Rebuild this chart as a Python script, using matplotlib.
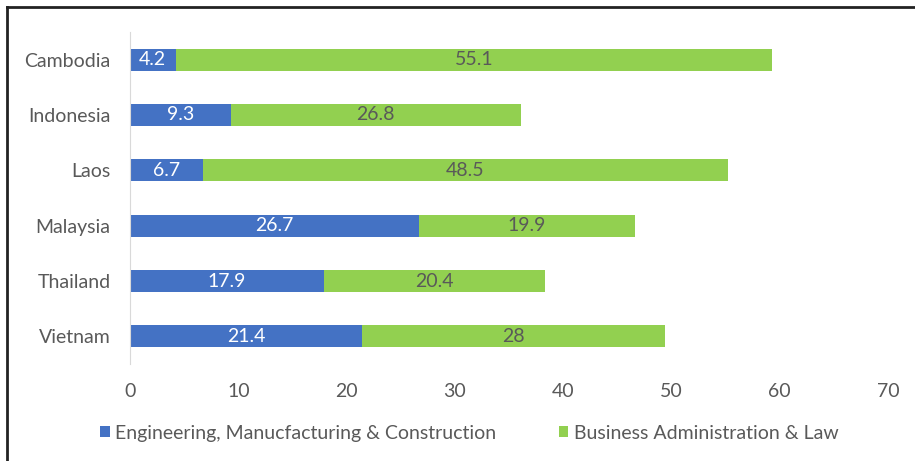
import matplotlib.pyplot as plt
import numpy as np

# data
countries = ['Cambodia', 'Indonesia', 'Laos', 'Malaysia', 'Thailand', 'Vietnam']
engineering = [4.2, 9.3, 6.7, 26.7, 17.9, 21.4]
business = [55.1, 26.8, 48.5, 19.9, 20.4, 28]
series_names = ['Engineering, Manucfacturing & Construction', 'Business Administration & Law']

blue = '#4472C4'
green = '#92D050'
grey = '#595959'

plt.rcParams['font.family'] = ['Lato', 'DejaVu Sans']

fig = plt.figure(figsize=(9.15, 4.61), dpi=100)
ax = fig.add_axes([0.1421, 0.2104, 0.8284, 0.7202])

y = np.arange(len(countries))
b1 = ax.barh(y, engineering, height=0.4, color=blue, label=series_names[0])
b2 = ax.barh(y, business, left=engineering, height=0.4, color=green, label=series_names[1])

for i in range(len(countries)):
    ax.text(engineering[i] / 2, y[i], f'{engineering[i]:g}', ha='center', va='center',
            color='white', fontsize=14)
    ax.text(engineering[i] + business[i] / 2, y[i], f'{business[i]:g}', ha='center', va='center',
            color=grey, fontsize=14)

ax.set_xlim(0, 70)
ax.set_ylim(len(countries) - 0.5, -0.5)
ax.set_xticks(range(0, 71, 10))
ax.set_yticks(y)
ax.set_yticklabels(countries)
ax.tick_params(axis='both', length=0, labelsize=14, colors=grey)
ax.tick_params(axis='x', pad=14)
ax.tick_params(axis='y', pad=14)
for s in ['top', 'right', 'bottom']:
    ax.spines[s].set_visible(False)
ax.spines['left'].set_color('#D9D9D9')

leg = fig.legend(handles=[b1, b2], loc='center', bbox_to_anchor=(0.513, 0.06), ncol=2,
                 frameon=False, fontsize=14, handlelength=0.5, handleheight=0.5,
                 handletextpad=0.3, columnspacing=3.2)
for t in leg.get_texts():
    t.set_color(grey)

# outer frame (top and left only visible)
fig.add_artist(plt.Line2D([0.0077, 0.0077], [0, 0.985], color='#222222', lw=2, transform=fig.transFigure))
fig.add_artist(plt.Line2D([0.0077, 1], [0.985, 0.985], color='#222222', lw=2, transform=fig.transFigure))

plt.savefig('out.png', dpi=100)
